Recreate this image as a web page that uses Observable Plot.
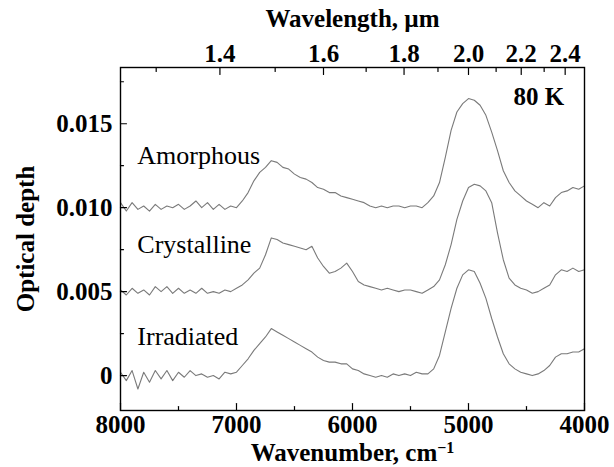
<!DOCTYPE html>
<html><head><meta charset="utf-8">
<script src="https://cdn.jsdelivr.net/npm/d3@7"></script>
<script src="https://cdn.jsdelivr.net/npm/@observablehq/plot@0.6"></script>
<style>body{margin:0;background:#fff}</style>
</head><body><div id="chart"></div>
<script>
const wavenumber = [8000,7950,7900,7850,7800,7750,7700,7650,7600,7550,7500,7450,7400,7350,7300,7250,7200,7150,7100,7050,
7000,6950,6900,6850,6800,6750,6700,6650,6600,6550,6500,6450,6400,6350,6300,6250,6200,6150,6100,6050,
6000,5950,5900,5850,5800,5750,5700,5650,5600,5550,5500,5450,5400,5350,5300,5250,5200,5150,5100,5050,
5000,4950,4900,4850,4800,4750,4700,4650,4600,4550,4500,4450,4400,4350,4300,4250,4200,4150,4100,4050,4000];

const amorphous = [0.0103,0.0098,0.0103,0.0099,0.0101,0.0098,0.0102,0.0099,0.0101,0.0100,
0.0102,0.0099,0.0101,0.0104,0.0100,0.0103,0.0099,0.0102,0.0099,0.0101,
0.0100,0.0104,0.0109,0.0116,0.0121,0.0124,0.0128,0.0127,0.0124,0.0123,
0.0120,0.0118,0.0117,0.0115,0.0112,0.0111,0.0109,0.0109,0.0107,0.0106,
0.0105,0.0104,0.0103,0.0101,0.0100,0.0101,0.0100,0.0101,0.0101,0.0100,
0.0101,0.0101,0.0100,0.0103,0.0107,0.0115,0.0130,0.0146,0.0157,0.0162,
0.0165,0.0164,0.0161,0.0155,0.0145,0.0134,0.0122,0.0115,0.0110,0.0107,
0.0104,0.0102,0.0100,0.0103,0.0101,0.0106,0.0109,0.0110,0.0112,0.0111,0.0113];

const crystalline = [0.0051,0.0048,0.0052,0.0049,0.0051,0.0048,0.0053,0.0050,0.0053,0.0049,
0.0052,0.0049,0.0051,0.0049,0.0052,0.0049,0.0050,0.0049,0.0051,0.0050,
0.0052,0.0054,0.0057,0.0061,0.0064,0.0072,0.0082,0.0081,0.0079,0.0078,
0.0077,0.0076,0.0075,0.0077,0.0070,0.0065,0.0061,0.0062,0.0064,0.0067,
0.0062,0.0056,0.0054,0.0053,0.0052,0.0051,0.0052,0.0051,0.0050,0.0051,
0.0051,0.0050,0.0049,0.0051,0.0053,0.0057,0.0066,0.0078,0.0093,0.0104,
0.0112,0.0114,0.0113,0.0110,0.0103,0.0085,0.0069,0.0058,0.0054,0.0052,
0.0051,0.0049,0.0050,0.0052,0.0054,0.0060,0.0063,0.0062,0.0064,0.0062,0.0063];

const irradiated = [0.0002,-0.0003,0.0003,-0.0008,0.0002,-0.0004,0.0003,-0.0002,0.0003,-0.0003,
0.0002,-0.0001,0.0003,0.0000,0.0001,-0.0001,0.0000,-0.0002,0.0002,0.0001,
0.0002,0.0006,0.0010,0.0015,0.0019,0.0023,0.0028,0.0026,0.0024,0.0022,
0.0020,0.0018,0.0016,0.0014,0.0011,0.0009,0.0008,0.0008,0.0007,0.0007,
0.0004,0.0003,0.0001,0.0000,-0.0001,0.0000,-0.0001,0.0001,0.0000,0.0001,
0.0000,0.0002,0.0001,0.0001,0.0004,0.0012,0.0026,0.0040,0.0052,0.0060,
0.0063,0.0062,0.0055,0.0046,0.0034,0.0023,0.0013,0.0007,0.0004,0.0002,
0.0001,0.0000,0.0001,0.0003,0.0006,0.0011,0.0013,0.0013,0.0014,0.0014,0.0016];

const seriesNames = ["Amorphous", "Crystalline", "Irradiated"];
const seriesValues = [amorphous, crystalline, irradiated];

const xMajor = [8000, 7000, 6000, 5000, 4000];
const xMinor = [7500, 6500, 5500, 4500];
const lambdaMajor = [1.4, 1.6, 1.8, 2.0, 2.2, 2.4];
const lambdaMinor = [1.3, 1.5, 1.7, 1.9, 2.1, 2.3];
const yMajor = [0, 0.005, 0.010, 0.015];
const yMinor = [0.0025, 0.0075, 0.0125, 0.0175];
const tempLabel = "80 K";
const xTitle = "Wavenumber, cm";
const xTitleSup = "\u22121";
const topTitle = "Wavelength, \u00b5m";
const yTitle = "Optical depth";

const rows = [];
seriesNames.forEach((name, s) => seriesValues[s].forEach((v, i) => rows.push({series: name, wn: wavenumber[i], od: v})));

const toWn = l => 1e4 / l;
const tickShape = {draw(context, l) { context.moveTo(0, 0); context.lineTo(0, -l); }};
const inTick = (data, opts) => Plot.vector(data, {anchor: "start", shape: tickShape, stroke: "#000", strokeWidth: 1.2, ...opts});

const chart = Plot.plot({
  width: 614, height: 467,
  marginLeft: 120, marginRight: 30, marginTop: 67, marginBottom: 57,
  style: {fontFamily: "'Liberation Serif', 'Times New Roman', serif", fontSize: "25px", fontWeight: "bold", color: "#000", background: "#fff", overflow: "visible"},
  x: {domain: [8000, 4000], label: null},
  y: {domain: [-0.00208, 0.01835], label: null},
  marks: [
    Plot.line(rows, {x: "wn", y: "od", z: "series", stroke: "#7a7a7a", strokeWidth: 1.1}),
    Plot.frame({stroke: "#000", strokeWidth: 1.4}),
    Plot.axisX({anchor: "bottom", ticks: xMajor, tickSize: 0, tickPadding: 5, tickFormat: d => String(d), label: null}),
    Plot.axisX({anchor: "top", ticks: lambdaMajor.map(toWn), tickSize: 0, tickPadding: 6, tickFormat: d => (1e4 / d).toFixed(1), label: null}),
    Plot.axisY({anchor: "left", ticks: yMajor, tickSize: 0, tickPadding: 8, tickFormat: d => d === 0 ? "0" : d.toFixed(3), label: null}),
    inTick(xMajor, {x: d => d, frameAnchor: "bottom", rotate: 0, length: 7}),
    inTick(xMinor, {x: d => d, frameAnchor: "bottom", rotate: 0, length: 4}),
    inTick(lambdaMajor, {x: d => toWn(d), frameAnchor: "top", rotate: 180, length: 7}),
    inTick(lambdaMinor, {x: d => toWn(d), frameAnchor: "top", rotate: 180, length: 4}),
    inTick(yMajor, {y: d => d, frameAnchor: "left", rotate: 90, length: 6}),
    inTick(yMinor, {y: d => d, frameAnchor: "left", rotate: 90, length: 3}),
    Plot.text(seriesNames, {x: () => 7855, y: (d, i) => [0.0131, 0.0078, 0.0023][i], text: d => d, textAnchor: "start", lineAnchor: "middle", fontWeight: "normal", fontSize: 26}),
    Plot.text([tempLabel], {x: () => 4613, y: () => 0.01657, text: d => d, textAnchor: "start", lineAnchor: "middle", fontSize: 25}),
    Plot.text([topTitle], {frameAnchor: "top", dy: -58, text: d => d, textAnchor: "middle", lineAnchor: "top"}),
    Plot.text([xTitle], {frameAnchor: "bottom", dy: 33, text: d => d, textAnchor: "middle", lineAnchor: "top"}),
    Plot.text([yTitle], {frameAnchor: "left", dx: -95, rotate: -90, text: d => d, textAnchor: "middle", lineAnchor: "middle"})
  ]
});
document.getElementById("chart").appendChild(chart);
d3.select(chart).selectAll("text").filter(function() { return this.textContent === xTitle; })
  .append("tspan").attr("dy", "-0.5em").attr("font-size", "16px").text(xTitleSup);
</script>
</body></html>
